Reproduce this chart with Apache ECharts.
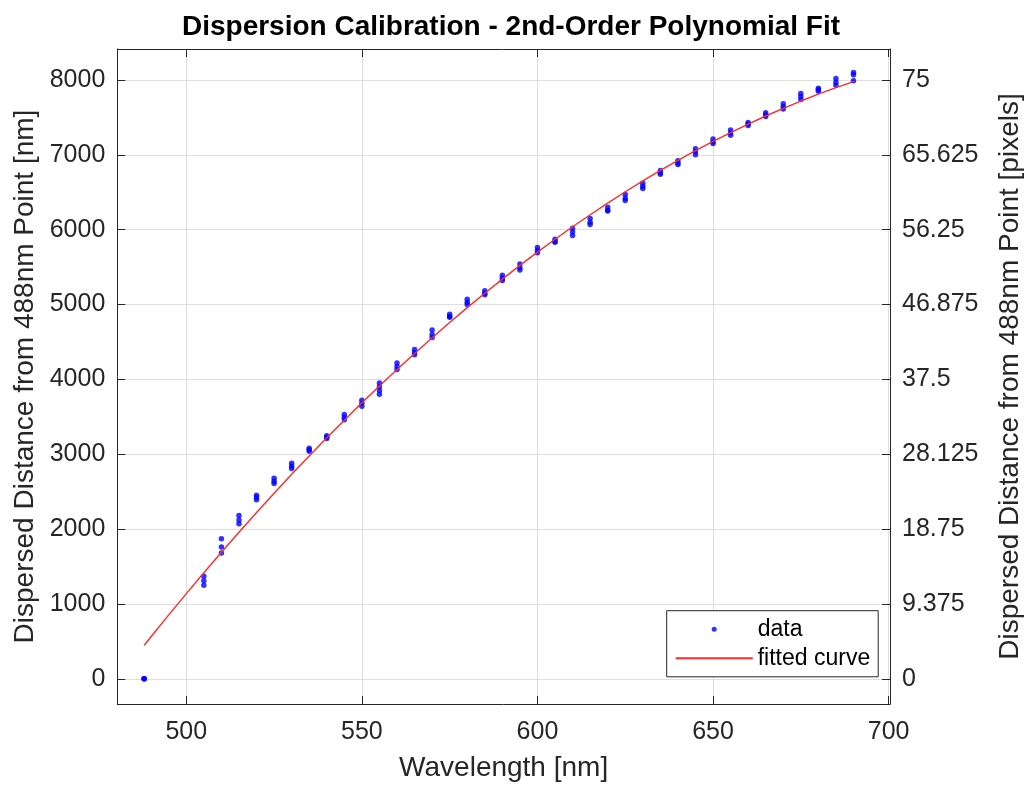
<!DOCTYPE html>
<html>
<head>
<meta charset="utf-8">
<title>Dispersion Calibration</title>
<script src="https://cdn.jsdelivr.net/npm/echarts@6/dist/echarts.min.js"></script>
<style>
  html, body { margin: 0; padding: 0; background: #fff; }
  #chart { width: 1032px; height: 787px; }
</style>
</head>
<body>
<div id="chart"></div>
<script>
// Calibration wavelengths [nm] and repeated measurements of the dispersed distance [nm]
const wavelengths = [488, 505, 510, 515, 520, 525, 530, 535, 540, 545, 550, 555, 560, 565,
  570, 575, 580, 585, 590, 595, 600, 605, 610, 615, 620, 625, 630, 635, 640, 645, 650, 655,
  660, 665, 670, 675, 680, 685, 690];
const measurements = [
  [0, 0, 0],
  [1370, 1310, 1250],
  [1870, 1760, 1680],
  [2180, 2120, 2070],
  [2450, 2420, 2390],
  [2680, 2640, 2610],
  [2880, 2840, 2810],
  [3080, 3060, 3040],
  [3245, 3225, 3210],
  [3530, 3495, 3460],
  [3720, 3680, 3640],
  [3950, 3900, 3850, 3800],
  [4220, 4170, 4130],
  [4400, 4360, 4330],
  [4660, 4600, 4560],
  [4870, 4840, 4830],
  [5070, 5030, 5000],
  [5185, 5150, 5130],
  [5390, 5350, 5320],
  [5540, 5490, 5460],
  [5760, 5720, 5690],
  [5870, 5840, 5830],
  [6020, 5970, 5920],
  [6150, 6100, 6070],
  [6300, 6260, 6250],
  [6470, 6420, 6390],
  [6620, 6580, 6550],
  [6790, 6760, 6740],
  [6920, 6890, 6870],
  [7080, 7040, 7000],
  [7210, 7170, 7150],
  [7330, 7290, 7260],
  [7430, 7410, 7390],
  [7560, 7530, 7510],
  [7680, 7640, 7610],
  [7820, 7780, 7740],
  [7890, 7870, 7850],
  [8020, 7970, 7930],
  [8100, 8070, 7990]
];

// Second-order polynomial fit, tabulated
const fitWavelengths = [488, 490, 495, 500, 505, 510, 515, 520, 525, 530, 535, 540, 545, 550,
  555, 560, 565, 570, 575, 580, 585, 590, 595, 600, 605, 610, 615, 620, 625, 630, 635, 640,
  645, 650, 655, 660, 665, 670, 675, 680, 685, 690];
const fitValues = [447, 564, 854, 1138, 1417, 1690, 1958, 2221, 2478, 2731, 2977, 3219, 3455,
  3686, 3911, 4131, 4346, 4555, 4759, 4958, 5151, 5339, 5522, 5699, 5871, 6038, 6199, 6355,
  6506, 6651, 6791, 6925, 7055, 7179, 7297, 7410, 7518, 7621, 7718, 7810, 7897, 7978];

// Tick labels
const xTicks = [500, 550, 600, 650, 700];
const yTicksNm = [0, 1000, 2000, 3000, 4000, 5000, 6000, 7000, 8000];
const yTicksPx = [0, 9.375, 18.75, 28.125, 37.5, 46.875, 56.25, 65.625, 75];

// Axis limits; the pixel axis shares the nm axis through the detector scale
const X_MIN = 480.35, X_MAX = 700.4;
const Y_MIN = -337, Y_MAX = 8413;
const NM_PER_PIXEL = 8000 / 75;

const scatterData = [];
wavelengths.forEach((w, i) => measurements[i].forEach(v => scatterData.push([w, v])));
const fitData = fitWavelengths.map((w, i) => [w, fitValues[i]]);

const FONT = 'Liberation Sans, Arial, Helvetica, sans-serif';
const INK = '#262626';
const GRID = '#dedede';
const TICK_FONT = 25;
const LABEL_FONT = 28;

const chart = echarts.init(document.getElementById('chart'), null, { renderer: 'canvas' });

const tickStyle = { show: true, inside: true, length: 8, lineStyle: { color: INK, width: 1 } };

chart.setOption({
  backgroundColor: '#ffffff',
  animation: false,
  textStyle: { fontFamily: FONT },
  title: {
    text: 'Dispersion Calibration - 2nd-Order Polynomial Fit',
    left: 506,
    textAlign: 'center',
    top: 8,
    textStyle: { fontFamily: FONT, fontSize: 28, fontWeight: 'bold', color: '#000' }
  },
  grid: { left: 117.3, right: 137, top: 49, bottom: 81, containLabel: false },
  legend: {
    orient: 'vertical',
    left: 666.7,
    top: 610.7,
    padding: [7, 8, 7, 8],
    itemGap: 6.1,
    itemWidth: 77,
    itemHeight: 5,
    backgroundColor: '#fff',
    borderColor: INK,
    borderWidth: 1,
    borderRadius: 0,
    textStyle: { fontFamily: FONT, fontSize: 23, color: '#000' },
    data: [
      { name: 'data' },
      // the fit is drawn as a plain line, so its legend key carries no marker
      { name: 'fitted curve', itemStyle: { opacity: 0 } }
    ]
  },
  xAxis: [
    {
      type: 'value', position: 'bottom', min: X_MIN, max: X_MAX,
      name: 'Wavelength [nm]', nameLocation: 'middle', nameGap: 50,
      nameTextStyle: { fontFamily: FONT, fontSize: LABEL_FONT, color: INK },
      axisLine: { show: true, onZero: false, lineStyle: { color: INK, width: 1 } },
      axisTick: Object.assign({ customValues: xTicks }, tickStyle),
      axisLabel: { customValues: xTicks, fontSize: TICK_FONT, color: INK, margin: 16, formatter: v => String(v) },
      splitLine: { show: true, lineStyle: { color: GRID, width: 1 } }
    },
    {
      type: 'value', position: 'top', min: X_MIN, max: X_MAX,
      axisLine: { show: true, onZero: false, lineStyle: { color: INK, width: 1 } },
      axisTick: Object.assign({ customValues: xTicks }, tickStyle),
      axisLabel: { show: false },
      splitLine: { show: false }
    }
  ],
  yAxis: [
    {
      type: 'value', position: 'left', min: Y_MIN, max: Y_MAX,
      name: 'Dispersed Distance from 488nm Point [nm]', nameLocation: 'middle', nameGap: 73,
      nameTextStyle: { fontFamily: FONT, fontSize: LABEL_FONT, color: INK },
      axisLine: { show: true, onZero: false, lineStyle: { color: INK, width: 1 } },
      axisTick: Object.assign({ customValues: yTicksNm }, tickStyle),
      axisLabel: { customValues: yTicksNm, fontSize: TICK_FONT, color: INK, margin: 12, formatter: v => String(v) },
      splitLine: { show: true, lineStyle: { color: GRID, width: 1 } }
    },
    {
      type: 'value', position: 'right', min: Y_MIN / NM_PER_PIXEL, max: Y_MAX / NM_PER_PIXEL,
      name: 'Dispersed Distance from 488nm Point [pixels]', nameLocation: 'middle', nameGap: 106,
      nameTextStyle: { fontFamily: FONT, fontSize: LABEL_FONT, color: INK },
      axisLine: { show: true, onZero: false, lineStyle: { color: INK, width: 1 } },
      axisTick: Object.assign({ customValues: yTicksPx }, tickStyle),
      axisLabel: { customValues: yTicksPx, fontSize: TICK_FONT, color: INK, margin: 12, formatter: v => String(v) },
      splitLine: { show: false }
    }
  ],
  series: [
    {
      name: 'data',
      type: 'scatter',
      xAxisIndex: 0, yAxisIndex: 0,
      symbol: 'circle',
      symbolSize: 5.5,
      itemStyle: { color: '#0000ff' },
      data: scatterData,
      z: 3
    },
    {
      name: 'fitted curve',
      type: 'line',
      xAxisIndex: 0, yAxisIndex: 0,
      showSymbol: false,
      symbol: 'none',
      lineStyle: { color: '#ff2a2a', width: 1.4 },
      itemStyle: { color: '#ff2a2a' },
      data: fitData,
      z: 4
    }
  ]
});
</script>
</body>
</html>
